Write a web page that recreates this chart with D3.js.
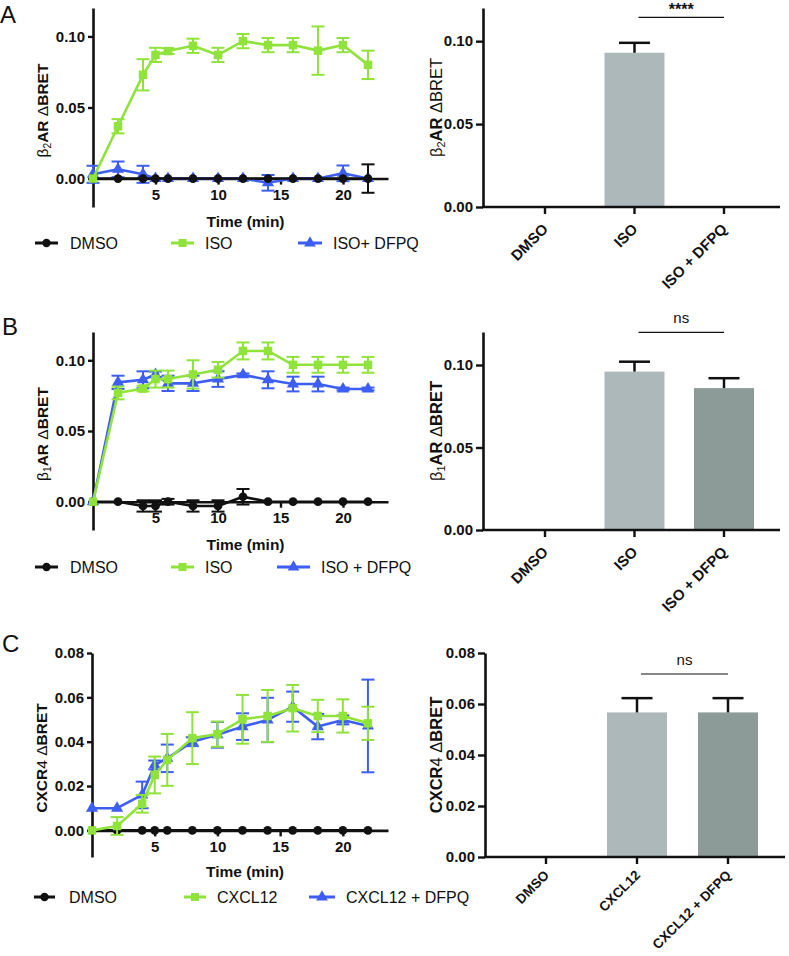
<!DOCTYPE html>
<html><head><meta charset="utf-8">
<script src="https://cdn.jsdelivr.net/npm/d3@7"></script>
<style>body{margin:0;background:#fff} text{font-family:"Liberation Sans",Arial,Helvetica,sans-serif;fill:#111}</style>
</head><body><svg id="c" width="789" height="956"></svg>
<script>
// ---------------- DATA ----------------
const timesMin = [0, 2, 4, 5, 6, 8, 10, 12, 14, 16, 18, 20, 22];
const xTicks = [5, 10, 15, 20];
const yTicksAB = [0, 0.05, 0.10];
const yTicksC = [0, 0.02, 0.04, 0.06, 0.08];

// Panel A (beta2AR)
const aDmso       = [0, 0, 0, 0, 0, 0, 0, 0, 0, 0, 0, 0, 0];
const aDmsoErr    = [0, 0, 0, 0, 0, 0, 0, 0, 0, 0, 0, 0, 0.010];
const aIso        = [0, 0.0368, 0.073, 0.087, 0.0897, 0.0934, 0.087, 0.0967, 0.0939, 0.0939, 0.090, 0.0939, 0.080];
const aIsoErr     = [0, 0.005, 0.011, 0.005, 0.002, 0.005, 0.005, 0.005, 0.005, 0.005, 0.017, 0.005, 0.010];
const aIsoDfpq    = [0.003, 0.0065, 0.003, 0, 0, 0, 0, 0, -0.003, 0, 0, 0.0037, 0];
const aIsoDfpqErr = [0.006, 0.0055, 0.006, 0, 0, 0, 0, 0, 0.0055, 0, 0, 0.0055, 0];
const aLegend     = ["DMSO", "ISO", "ISO+ DFPQ"];
const aBarCats    = ["DMSO", "ISO", "ISO + DFPQ"];
const aBarMean    = [0, 0.093, 0];
const aBarErr     = [0, 0.006, 0];
const aSig        = "****";

// Panel B (beta1AR)
const bDmso       = [0, 0, -0.003, -0.003, 0, -0.003, -0.003, 0.0035, 0, 0, 0, 0, 0];
const bDmsoErr    = [0, 0, 0.004, 0.004, 0.002, 0.004, 0.004, 0.0055, 0, 0, 0, 0, 0];
const bIso        = [0, 0.0769, 0.080, 0.0867, 0.0867, 0.090, 0.0933, 0.1066, 0.1066, 0.0968, 0.0968, 0.0968, 0.0968];
const bIsoErr     = [0, 0.0045, 0.002, 0.006, 0.006, 0.010, 0.0055, 0.006, 0.006, 0.0056, 0.0056, 0.0056, 0.0056];
const bIsoDfpq    = [0, 0.0844, 0.0862, 0.090, 0.0837, 0.0837, 0.0867, 0.0897, 0.0862, 0.0832, 0.0832, 0.0797, 0.0797];
const bIsoDfpqErr = [0, 0.0047, 0.006, 0.002, 0.0054, 0.0054, 0.0055, 0.001, 0.006, 0.0052, 0.0052, 0.001, 0.001];
const bLegend     = ["DMSO", "ISO", "ISO + DFPQ"];
const bBarCats    = ["DMSO", "ISO", "ISO + DFPQ"];
const bBarMean    = [0, 0.096, 0.086];
const bBarErr     = [0, 0.006, 0.006];
const bSig        = "ns";

// Panel C (CXCR4)
const cDmso       = [0, 0, 0, 0, 0, 0, 0, 0, 0, 0, 0, 0, 0];
const cDmsoErr    = [0, 0, 0, 0, 0, 0, 0, 0, 0, 0, 0, 0, 0];
const cCxcl       = [0, 0.002, 0.012, 0.025, 0.0318, 0.0416, 0.0434, 0.0501, 0.0516, 0.0551, 0.0516, 0.0516, 0.0483];
const cCxclErr    = [0, 0.004, 0.004, 0.0083, 0.0117, 0.0117, 0.0057, 0.011, 0.0117, 0.0105, 0.0073, 0.0075, 0.0075];
const cCxclDfpq   = [0.010, 0.010, 0.016, 0.0295, 0.0325, 0.040, 0.0431, 0.0468, 0.0498, 0.0558, 0.0468, 0.0498, 0.0471];
const cCxclDfpqErr= [0, 0, 0.006, 0.002, 0.0062, 0.002, 0.0058, 0.006, 0.010, 0.0068, 0.0057, 0.002, 0.0209];
const cLegend     = ["DMSO", "CXCL12", "CXCL12 + DFPQ"];
const cBarCats    = ["DMSO", "CXCL12", "CXCL12 + DFPQ"];
const cBarMean    = [0, 0.0567, 0.0567];
const cBarErr     = [0, 0.0056, 0.0056];
const cSig        = "ns";

// ---------------- STYLE / LAYOUT ----------------
const GREEN = "#8fe33b", BLUE = "#3d5ef2", BLACK = "#111111";
const BAR1 = "#adb8bb", BAR2 = "#8d9b98";
const svg = d3.select("#c");

function yTitle(x, y, parts, fs) {
  const t = svg.append("text").attr("transform", `translate(${x},${y}) rotate(-90)`)
    .attr("text-anchor", "middle").attr("font-size", fs);
  parts.forEach(p => {
    const ts = t.append("tspan").text(p.t).attr("font-weight", p.b ? "bold" : "normal");
    if (p.sub) ts.attr("font-size", fs * 0.66).attr("dy", 3);
    if (p.after) ts.attr("dy", -3);
  });
}

function styleAxis(g) {
  g.select(".domain").attr("stroke", BLACK).attr("stroke-width", 2.6);
  g.selectAll(".tick line").attr("stroke", BLACK).attr("stroke-width", 2.4);
  g.selectAll(".tick text").attr("font-size", 15).attr("font-weight", "bold").attr("fill", BLACK);
}

function drawSeries(g, x, y, vals, errs, color, sym, size) {
  const line = d3.line().x((d, i) => x(timesMin[i])).y(d => y(d));
  g.append("path").datum(vals).attr("d", line).attr("fill", "none")
    .attr("stroke", color).attr("stroke-width", 2.6).attr("stroke-linejoin", "round");
  const eg = g.append("g").attr("stroke", color).attr("stroke-width", 2);
  vals.forEach((v, i) => {
    const e = errs[i]; if (!e) return;
    const cx = x(timesMin[i]);
    eg.append("line").attr("x1", cx).attr("x2", cx).attr("y1", y(v - e)).attr("y2", y(v + e));
    [v - e, v + e].forEach(w => eg.append("line").attr("x1", cx - 6.5).attr("x2", cx + 6.5).attr("y1", y(w)).attr("y2", y(w)));
  });
  g.append("g").selectAll("path").data(vals).join("path")
    .attr("transform", (d, i) => `translate(${x(timesMin[i])},${y(d)})`)
    .attr("d", d3.symbol(sym, size)).attr("fill", color);
}

function linePanel(o) {
  const x = d3.scaleLinear().domain([0, 23.6]).range([o.x0, o.x1]);
  const y = d3.scaleLinear().domain(o.yDom).range([o.yBot, o.yTop]);
  const ya = svg.append("g").attr("transform", `translate(${o.x0},0)`)
    .call(d3.axisLeft(y).tickValues(o.yTicks).tickFormat(d3.format(".2f")).tickSize(5).tickPadding(3).tickSizeOuter(0));
  styleAxis(ya);
  const xa = svg.append("g").attr("transform", `translate(0,${y(0)})`)
    .call(d3.axisBottom(x).tickValues(xTicks).tickSize(6).tickPadding(5).tickSizeOuter(0));
  styleAxis(xa);
  const g = svg.append("g");
  drawSeries(g, x, y, o.s[2], o.e[2], BLUE, d3.symbolTriangle, 64);
  drawSeries(g, x, y, o.s[0], o.e[0], BLACK, d3.symbolCircle, 60);
  drawSeries(g, x, y, o.s[1], o.e[1], GREEN, d3.symbolSquare, 72);
  svg.append("text").attr("x", (o.x0 + o.x1) / 2 + 5).attr("y", o.yBot + 20).attr("text-anchor", "middle")
    .attr("font-size", 15.5).attr("font-weight", "bold").text("Time (min)");
  // legend
  const cols = [BLACK, GREEN, BLUE], syms = [d3.symbolCircle, d3.symbolSquare, d3.symbolTriangle], sz = [55, 64, 60];
  o.legend.forEach((lab, i) => {
    const lx = o.legX[i], ly = o.legY;
    svg.append("line").attr("x1", lx[0]).attr("x2", lx[1]).attr("y1", ly).attr("y2", ly)
      .attr("stroke", cols[i]).attr("stroke-width", 3);
    svg.append("path").attr("transform", `translate(${(lx[0] + lx[1]) / 2},${ly})`)
      .attr("d", d3.symbol(syms[i], sz[i])).attr("fill", cols[i]);
    svg.append("text").attr("x", lx[2]).attr("y", ly + 5.5).attr("font-size", 16).text(lab);
  });
  yTitle(o.titleX, (o.yTop + o.yBot) / 2 + 3, o.title, 15.5);
}

function barPanel(o) {
  const x = d3.scalePoint().domain(o.cats).range([o.c0, o.c1]);
  const y = d3.scaleLinear().domain(o.yDom).range([o.yBot, o.yTop]);
  const g = svg.append("g");
  g.selectAll("rect").data(o.mean).join("rect")
    .attr("x", (d, i) => x(o.cats[i]) - 30).attr("width", 60)
    .attr("y", d => y(d)).attr("height", d => y(0) - y(d))
    .attr("fill", (d, i) => i === 2 ? BAR2 : BAR1);
  o.mean.forEach((m, i) => {
    const e = o.err[i]; if (!e) return;
    const cx = x(o.cats[i]);
    g.append("line").attr("x1", cx).attr("x2", cx).attr("y1", y(m)).attr("y2", y(m + e)).attr("stroke", BLACK).attr("stroke-width", 2.5);
    g.append("line").attr("x1", cx - 15.5).attr("x2", cx + 15.5).attr("y1", y(m + e)).attr("y2", y(m + e)).attr("stroke", BLACK).attr("stroke-width", 2.5);
  });
  const ya = svg.append("g").attr("transform", `translate(${o.x0},0)`)
    .call(d3.axisLeft(y).tickValues(o.yTicks).tickFormat(d3.format(".2f")).tickSize(7).tickPadding(3).tickSizeOuter(0));
  styleAxis(ya);
  const xa = svg.append("g").attr("transform", `translate(0,${o.yBot})`);
  xa.append("line").attr("x1", o.x0 - 1).attr("x2", o.x1).attr("stroke", BLACK).attr("stroke-width", 2.6);
  xa.selectAll(".tk").data(o.cats).join("line").attr("x1", d => x(d)).attr("x2", d => x(d))
    .attr("y1", 0).attr("y2", 7).attr("stroke", BLACK).attr("stroke-width", 2.4);
  xa.selectAll(".lb").data(o.cats).join("text")
    .attr("transform", d => `translate(${x(d) + 4},${o.labY}) rotate(-45)`)
    .attr("text-anchor", "end").attr("font-size", o.labFs).attr("font-weight", "bold").text(d => d);
  // significance
  const sx0 = x(o.cats[1]) + 4, sx1 = x(o.cats[2]);
  svg.append("line").attr("x1", sx0).attr("x2", sx1).attr("y1", o.sigY).attr("y2", o.sigY)
    .attr("stroke", BLACK).attr("stroke-width", 1.2);
  svg.append("text").attr("x", (sx0 + sx1) / 2).attr("y", o.sigTextY).attr("text-anchor", "middle")
    .attr("font-size", o.sig === "ns" ? 15 : 16).attr("font-weight", o.sig === "ns" ? "normal" : "bold").text(o.sig);
  yTitle(o.titleX, (o.yTop + o.yBot) / 2, o.title, 16.5);
}

function letter(t, x, y) {
  svg.append("text").attr("x", x).attr("y", y).attr("font-size", 24).text(t);
}

// Panel A
letter("A", 0, 23);
linePanel({ x0: 93, x1: 388, yTop: 8, yBot: 207, yDom: [-0.02, 0.12], yTicks: yTicksAB,
  s: [aDmso, aIso, aIsoDfpq], e: [aDmsoErr, aIsoErr, aIsoDfpqErr], legend: aLegend, legY: 243,
  legX: [[35, 58, 70], [171, 194, 205], [298, 322, 333]], titleX: 48,
  title: [{ t: "β" }, { t: "2", sub: 1 }, { t: "AR", b: 1, after: 1 }, { t: " Δ" }, { t: "BRET", b: 1 }] });
barPanel({ x0: 483, x1: 780, c0: 545, c1: 724, yTop: 8, yBot: 207, yDom: [0, 0.12], yTicks: yTicksAB,
  cats: aBarCats, mean: aBarMean, err: aBarErr, sig: aSig, sigY: 17.3, sigTextY: 15, titleX: 442,
  labY: 23, labFs: 15,
  title: [{ t: "β" }, { t: "2", sub: 1 }, { t: "AR", b: 1, after: 1 }, { t: " ΔBRET" }] });

// Panel B
letter("B", 2, 335);
linePanel({ x0: 93, x1: 388, yTop: 332, yBot: 530, yDom: [-0.02, 0.12], yTicks: yTicksAB,
  s: [bDmso, bIso, bIsoDfpq], e: [bDmsoErr, bIsoErr, bIsoDfpqErr], legend: bLegend, legY: 567,
  legX: [[35, 58, 70], [171, 194, 205], [277, 310, 321]], titleX: 48,
  title: [{ t: "β" }, { t: "1", sub: 1 }, { t: "AR", b: 1, after: 1 }, { t: " Δ" }, { t: "BRET", b: 1 }] });
barPanel({ x0: 483, x1: 780, c0: 545, c1: 724, yTop: 332, yBot: 530, yDom: [0, 0.12], yTicks: yTicksAB,
  cats: bBarCats, mean: bBarMean, err: bBarErr, sig: bSig, sigY: 332.3, sigTextY: 323, titleX: 442,
  labY: 23, labFs: 15,
  title: [{ t: "β" }, { t: "1", sub: 1 }, { t: "AR", b: 1, after: 1 }, { t: " Δ" }, { t: "BRET", b: 1 }] });

// Panel C
letter("C", 2, 652);
linePanel({ x0: 92, x1: 388, yTop: 653, yBot: 857, yDom: [-0.012, 0.08], yTicks: yTicksC,
  s: [cDmso, cCxcl, cCxclDfpq], e: [cDmsoErr, cCxclErr, cCxclDfpqErr], legend: cLegend, legY: 897,
  legX: [[34, 55, 69], [184, 206, 217], [309, 335, 346]], titleX: 47,
  title: [{ t: "CXCR", b: 1 }, { t: "4" }, { t: " Δ" }, { t: "BRET", b: 1 }] });
barPanel({ x0: 485, x1: 785, c0: 546, c1: 728, yTop: 653, yBot: 857, yDom: [0, 0.08], yTicks: yTicksC,
  cats: cBarCats, mean: cBarMean, err: cBarErr, sig: cSig, sigY: 674, sigTextY: 665, titleX: 442,
  labY: 19, labFs: 13.5,
  title: [{ t: "CXCR", b: 1 }, { t: "4" }, { t: " Δ" }, { t: "BRET", b: 1 }] });
</script></body></html>
